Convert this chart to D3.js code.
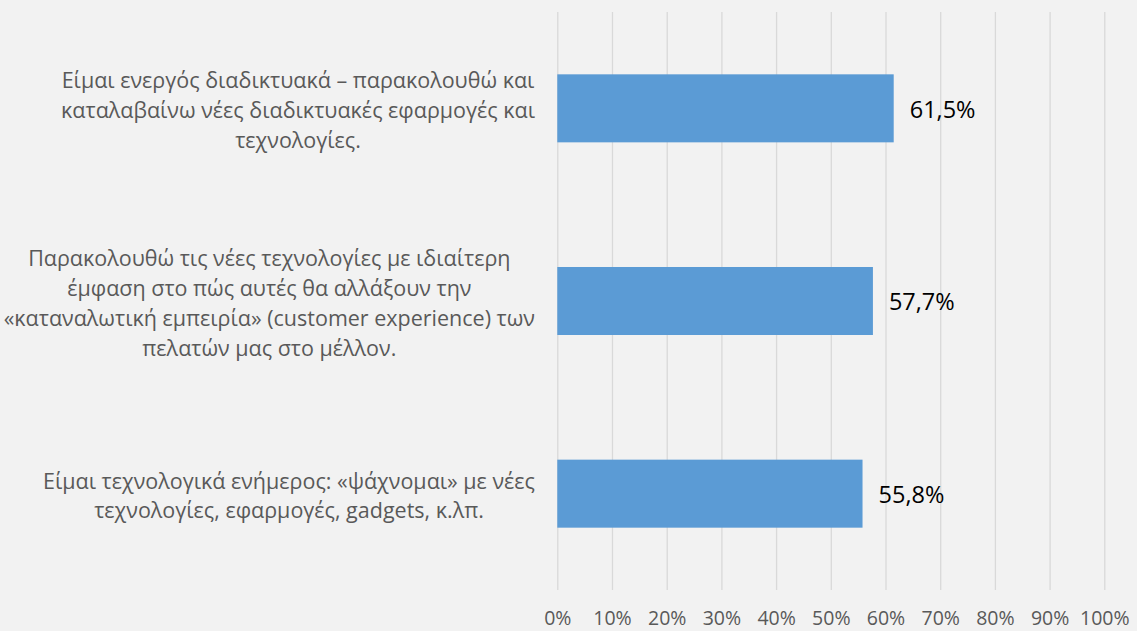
<!DOCTYPE html>
<html><head><meta charset="utf-8">
<script src="https://cdn.jsdelivr.net/npm/d3@7/dist/d3.min.js"></script>
<style>html,body{margin:0;padding:0;background:#f2f2f2;}svg{display:block;}</style>
</head><body>
<svg id="c" width="1137" height="631"></svg>
<script>
const categories = [
  ["Είμαι ενεργός διαδικτυακά – παρακολουθώ και", "καταλαβαίνω νέες διαδικτυακές εφαρμογές και", "τεχνολογίες."],
  ["Παρακολουθώ τις νέες τεχνολογίες με ιδιαίτερη", "έμφαση στο πώς αυτές θα αλλάξουν την", "«καταναλωτική εμπειρία» (customer experience) των", "πελατών μας στο μέλλον."],
  ["Είμαι τεχνολογικά ενήμερος: «ψάχνομαι» με νέες", "τεχνολογίες, εφαρμογές, gadgets, κ.λπ."]
];
const values = [0.615, 0.577, 0.558];
const valueLabels = ["61,5%", "57,7%", "55,8%"];
const tickValues = [0, 0.1, 0.2, 0.3, 0.4, 0.5, 0.6, 0.7, 0.8, 0.9, 1.0];
const tickLabels = ["0%", "10%", "20%", "30%", "40%", "50%", "60%", "70%", "80%", "90%", "100%"];

const svg = d3.select("#c");
const FONT = "'Open Sans', 'Noto Sans', sans-serif";
const catFs = 21.5, valFs = 23.5, tickFs = 19.5, lineH = 29.8;
const plotTop = 12, plotBottom = 590;
const x = d3.scaleLinear().domain([0, 1]).range([557.3, 1104.3]);
const ids = categories.map((d, i) => i);
const pad = 0.647;
const y = d3.scaleBand().domain(ids).range([plotTop, plotBottom]).paddingInner(pad).paddingOuter(pad / 2);

svg.append("rect").attr("width", 1137).attr("height", 631).attr("fill", "#f2f2f2");

// gridlines via axis
const grid = svg.append("g").attr("transform", `translate(0,${plotTop})`)
  .call(d3.axisBottom(x).tickValues(tickValues).tickSize(plotBottom - plotTop).tickFormat(""));
grid.select(".domain").remove();
grid.selectAll(".tick line").attr("stroke", "#d9d9d9").attr("stroke-width", 1.3);

// tick labels
const ax = svg.append("g").attr("transform", `translate(0,${plotBottom})`)
  .call(d3.axisBottom(x).tickValues(tickValues).tickSize(0).tickPadding(0).tickFormat((d, i) => tickLabels[i]));
ax.select(".domain").remove();
ax.selectAll(".tick text").attr("y", 35).attr("dy", null).attr("fill", "#595959")
  .style("font-family", FONT).style("font-size", tickFs + "px");

// bars
svg.append("g").selectAll("rect").data(values).join("rect")
  .attr("x", x(0)).attr("y", (d, i) => y(i))
  .attr("width", d => x(d) - x(0)).attr("height", y.bandwidth())
  .attr("fill", "#5b9bd5");

// value labels
svg.append("g").selectAll("text").data(values).join("text")
  .attr("x", d => x(d) + 16)
  .attr("y", (d, i) => y(i) + y.bandwidth() / 2 + 1 + 0.357 * valFs)
  .attr("fill", "#000").style("font-family", FONT).style("font-size", valFs + "px")
  .text((d, i) => valueLabels[i]);

// category labels: lines centered within a block right-aligned at x=535
const labelRight = 535;
categories.forEach((lines, i) => {
  const g = svg.append("g");
  const cy = y(i) + y.bandwidth() / 2 + 4;
  const texts = g.selectAll("text").data(lines).join("text")
    .attr("text-anchor", "middle").attr("fill", "#595959")
    .style("font-family", FONT).style("font-size", catFs + "px")
    .attr("y", (d, j) => cy + (j - (lines.length - 1) / 2) * lineH + 0.27 * catFs)
    .text(d => d);
  let maxW = 0;
  texts.each(function () { maxW = Math.max(maxW, this.getComputedTextLength()); });
  texts.attr("x", labelRight - maxW / 2);
});
</script>
</body></html>
